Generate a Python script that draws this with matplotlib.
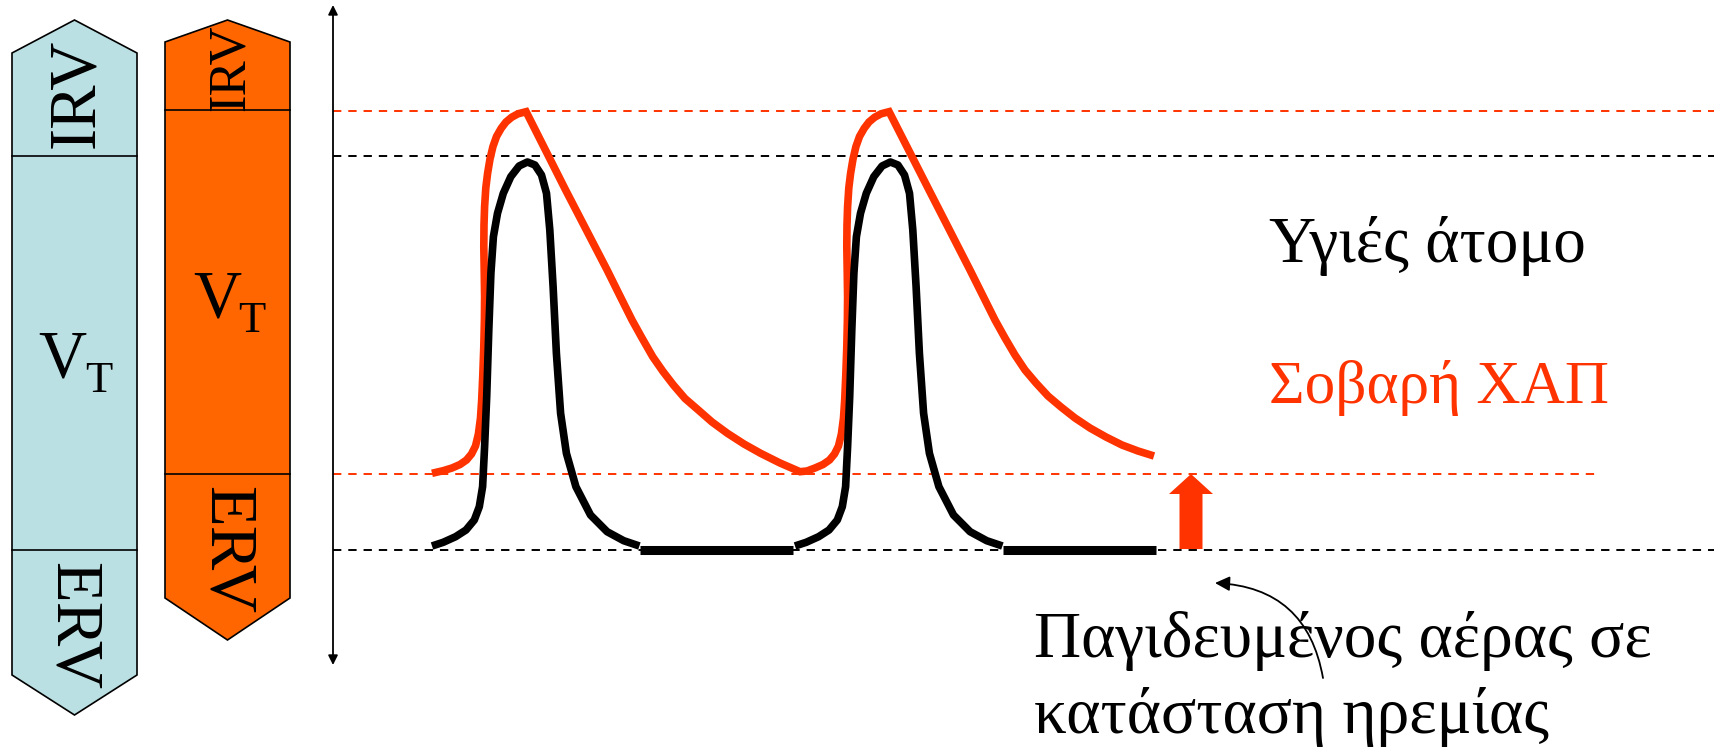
import matplotlib
matplotlib.use("Agg")
import matplotlib.pyplot as plt
from matplotlib.patches import Polygon

plt.rcParams['font.family'] = ['Liberation Serif', 'DejaVu Serif']
plt.rcParams['lines.scale_dashes'] = False

# ---------------- data (pixel-like units, y grows downward) ----------------
# Healthy subject (black) breathing trace
black_t1 = [432.0, 443.2, 455.6, 466.0, 474.3, 479.3, 482.6, 484.6, 486.7, 488.8, 490.9, 493.4,
            497.5, 503.3, 510.8, 519.1, 527.4, 534.9, 541.5, 546.5, 549.8, 553.1, 556.4, 560.6,
            566.4, 575.9, 590.5, 607.1, 623.7, 639.4]
black_v1 = [546, 542.3, 536.7, 530, 520, 506.7, 486.7, 446.7, 396.7, 330, 273.3, 236.7,
            213.3, 193.3, 176.7, 166, 162, 165, 175, 193.3, 230, 286.7, 353.3, 413.3,
            453.3, 486.7, 515, 531.7, 540.7, 546]
black_t2 = [795.0, 806.2, 818.6, 829.0, 837.3, 842.3, 845.6, 847.6, 849.7, 851.8, 853.9, 856.4,
            860.5, 866.3, 873.8, 882.1, 890.4, 897.9, 904.5, 909.5, 912.8, 916.1, 919.4, 923.6,
            929.4, 938.9, 953.5, 970.1, 986.7, 1002.4]
black_v2 = [546, 542.3, 536.7, 530, 520, 506.7, 486.7, 446.7, 396.7, 330, 273.3, 236.7,
            213.3, 193.3, 176.7, 166, 162, 165, 175, 193.3, 230, 286.7, 353.3, 413.3,
            453.3, 486.7, 515, 531.7, 540.7, 546]
# end-expiratory pauses (healthy)
pause_t = [[640, 793], [1003, 1156]]
pause_v = 549.5

# Severe COPD (red) breathing trace
red_t = [432.0, 443.2, 452.0, 460.0, 466.5, 471.5, 475.5, 478.4, 480.5, 481.7, 482.8, 483.8,
         484.4, 484.6, 484.2, 483.8, 484.0, 484.6, 485.8, 487.6, 490.0, 492.9, 496.5, 501.2,
         506.0, 511.6, 518.0, 526.1,
         565.6, 607.1, 620.0, 632.0, 642.0, 652.7, 663.0, 673.4, 685.0, 698.3, 712.0, 727.4,
         744.0, 760.6, 780.0, 800.0,
         807.0, 815.0, 823.0, 829.5, 834.5, 838.5, 841.4, 843.5, 844.7, 845.8, 846.8,
         847.4, 847.6, 847.2, 846.8, 847.0, 847.6, 848.8, 850.6, 853.0, 855.9, 859.5, 864.2,
         869.0, 874.6, 881.0, 889.1,
         929.0, 970.0, 983.0, 995.0, 1005.0, 1015.0, 1025.0, 1036.0, 1048.0, 1061.0, 1075.0,
         1090.0, 1106.0, 1122.0, 1138.0, 1154.0]
red_v = [473.3, 470.7, 468.0, 464.5, 460.0, 454.0, 446.0, 434.0, 418.0, 400.0, 375.0, 346.7,
         320.0, 296.7, 270.0, 246.7, 225.0, 206.7, 188.0, 173.3, 159.0, 146.7, 136.5, 128.3,
         122.0, 117.3, 113.8, 111.7,
         190, 270, 296, 320, 338, 356.7, 371.5, 385, 398.5, 410, 422, 433.3,
         444, 453.3, 463, 471.7,
         471.0, 468.0, 464.5, 460.0, 454.0, 446.0, 434.0, 418.0, 400.0, 375.0, 346.7,
         320.0, 296.7, 270.0, 246.7, 225.0, 206.7, 188.0, 173.3, 159.0, 146.7, 136.5, 128.3,
         122.0, 117.3, 113.8, 111.7,
         190, 270, 296, 320, 338, 355, 370, 383, 396, 407, 418,
         428, 437, 445, 451, 456]

# Reference volume levels (dashed lines)
level_y = [110.7, 156, 474, 549.5]
level_colors = ['#FF3300', 'black', '#FF3300', 'black']
level_x_end = [1715, 1715, 1600, 1715]

# Volume bars: [top point, shoulder, IRV/VT, VT/ERV, shoulder, bottom point]
blue_levels = [20, 53, 156, 550, 675, 715]
blue_x = [12, 137]
orange_levels = [20, 42, 110, 474, 598, 640]
orange_x = [165, 290]

RED = '#FF3300'
ORANGE = '#FF6600'
BLUE = '#BBE0E3'

fig = plt.figure(figsize=(17.15, 7.49), dpi=100)
ax = fig.add_axes([0, 0, 1, 1])
ax.set_xlim(0, 1715)
ax.set_ylim(749, 0)
ax.axis('off')


def bar(xs, lv, color):
    l, r = xs
    c = (l + r) / 2
    pts = [(c, lv[0]), (r, lv[1]), (r, lv[4]), (c, lv[5]), (l, lv[4]), (l, lv[1])]
    ax.add_patch(Polygon(pts, closed=True, facecolor=color, edgecolor='black', lw=1.2, zorder=2))
    for yy in (lv[2], lv[3]):
        ax.plot([l, r], [yy, yy], color='black', lw=1.2, zorder=3)


bar(blue_x, blue_levels, BLUE)
bar(orange_x, orange_levels, ORANGE)

# bar labels
ax.text(77, 93, 'IRV', fontsize=48, rotation=90, ha='center', va='center', zorder=4)
ax.text(72, 626, 'ERV', fontsize=48, rotation=-90, ha='center', va='center', zorder=4)
ax.text(38, 377, 'V', fontsize=48, ha='left', va='baseline', zorder=4)
ax.text(85, 392, 'T', fontsize=32, ha='left', va='baseline', zorder=4)

ax.text(231, 68, 'IRV', fontsize=38, rotation=90, ha='center', va='center', zorder=4)
ax.text(226, 550, 'ERV', fontsize=48, rotation=-90, ha='center', va='center', zorder=4)
ax.text(193, 316, 'V', fontsize=48, ha='left', va='baseline', zorder=4)
ax.text(238, 332, 'T', fontsize=32, ha='left', va='baseline', zorder=4)

# vertical double arrow
ax.annotate('', xy=(333, 5), xytext=(333, 665),
            arrowprops=dict(arrowstyle='<|-|>', lw=1.3, color='black',
                            mutation_scale=14, shrinkA=0, shrinkB=0))

# dashed level lines
for yy, cc, xe in zip(level_y, level_colors, level_x_end):
    ax.plot([333, xe], [yy, yy], color=cc, lw=1.4, dashes=(6, 5), zorder=1)

# traces
ax.plot(red_t, red_v, color=RED, lw=5.5, solid_joinstyle='miter', solid_capstyle='butt', zorder=5)
ax.plot(black_t1, black_v1, color='black', lw=5.5, solid_joinstyle='round', solid_capstyle='butt', zorder=6)
ax.plot(black_t2, black_v2, color='black', lw=5.5, solid_joinstyle='round', solid_capstyle='butt', zorder=6)
for seg in pause_t:
    ax.plot(seg, [pause_v, pause_v], color='black', lw=6.5, solid_capstyle='butt', zorder=6)

# red block arrow (trapped air)
ax.arrow(1191, 549, 0, -75, width=23, head_width=44, head_length=20,
         length_includes_head=True, color=RED, lw=0, zorder=7)

# labels
ax.text(1269, 262, 'Υγιές άτομο', fontsize=47, color='black', ha='left', va='baseline')
ax.text(1269, 403, 'Σοβαρή ΧΑΠ', fontsize=44, color=RED, ha='left', va='baseline')
ax.text(1034, 657, 'Παγιδευμένος αέρας σε', fontsize=47, color='black', ha='left', va='baseline')
ax.text(1034, 733, 'κατάσταση ηρεμίας', fontsize=47, color='black', ha='left', va='baseline')

# curved pointer arrow
ax.annotate('', xy=(1215, 583), xytext=(1323, 678),
            arrowprops=dict(arrowstyle='-|>', lw=1.3, color='black', mutation_scale=22,
                            connectionstyle='arc3,rad=0.4', shrinkA=0, shrinkB=0), zorder=8)

fig.savefig('out.png', dpi=100)
